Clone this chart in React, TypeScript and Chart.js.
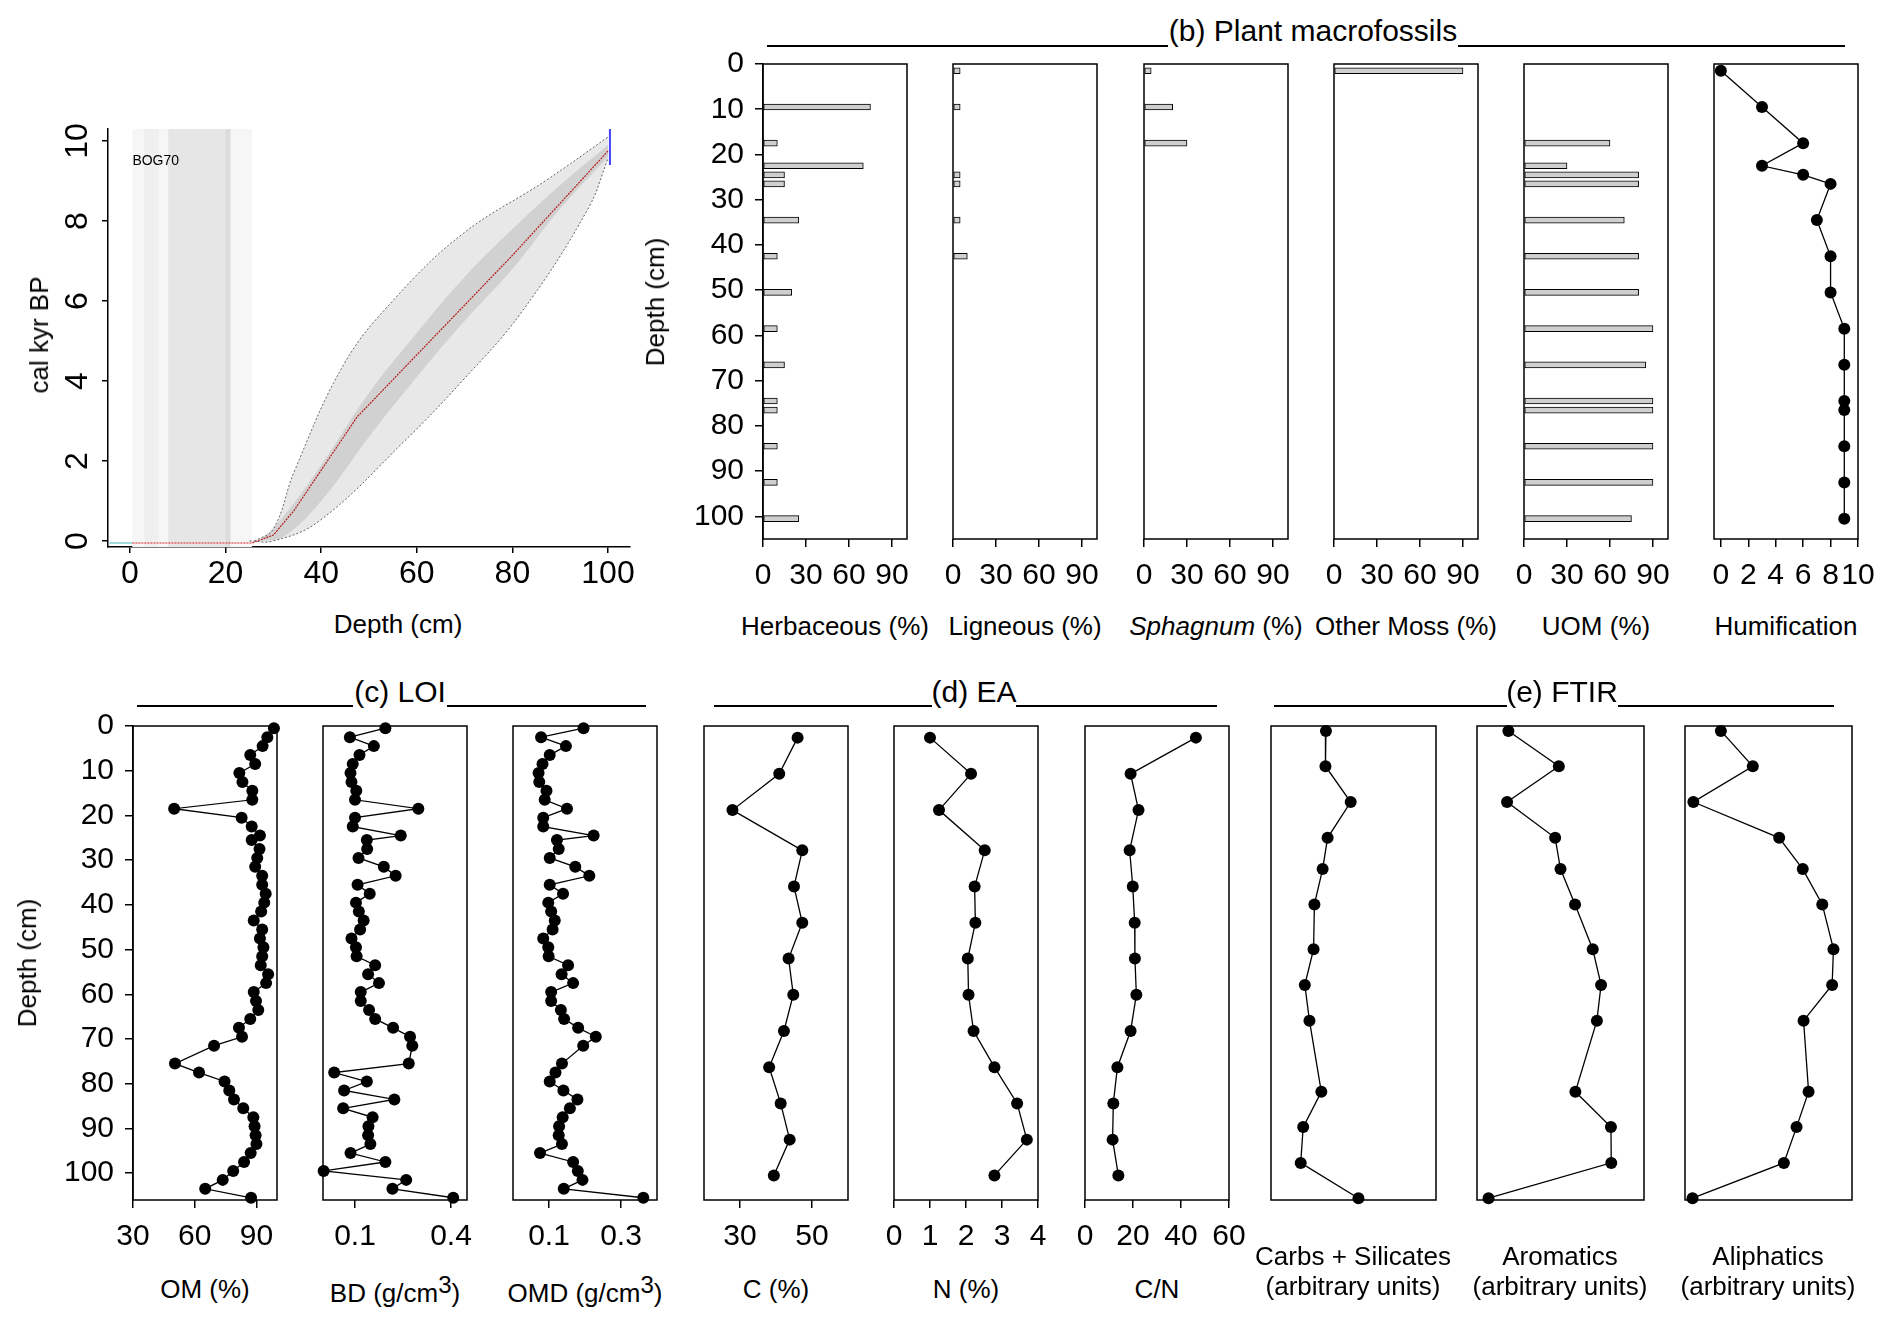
import React, { useEffect, useRef } from "react";
import { Chart, registerables } from "chart.js";
Chart.register(...registerables);

const FONT = "'Liberation Sans', Arial, sans-serif";

// ---------- (a) age-depth model ----------
const ageMeanDepth = [0.5, 25.5, 30, 34.3, 47.5, 80, 100];
const ageMeanAge = [-0.05, -0.05, 0.15, 0.76, 3.1, 7.14, 9.75];
const ageUpperDepth = [26, 30, 34.4, 44.9, 55.4, 69.5, 87.1, 100];
const ageUpperAge = [0, 0.3, 1.75, 4.45, 6.06, 7.67, 9.02, 10.1];
const ageLowerDepth = [25, 30, 39.6, 57.2, 69.5, 81.8, 95.8, 100];
const ageLowerAge = [0, 0, 0.5, 2.47, 4.0, 5.7, 8.3, 9.56];
const ageInnerUpperDepth = [27, 32, 40, 50, 60, 70, 80, 90, 100];
const ageInnerUpperAge = [0, 0.6, 1.9, 3.7, 5.2, 6.6, 7.8, 8.9, 9.9];
const ageInnerLowerDepth = [27, 32, 40, 50, 60, 70, 80, 90, 100];
const ageInnerLowerAge = [0, 0.1, 1.0, 2.6, 4.1, 5.5, 6.8, 8.3, 9.6];
const ageXTicks = [0, 20, 40, 60, 80, 100];
const ageYTicks = [0, 2, 4, 6, 8, 10];

// ---------- (b) plant macrofossils ----------
const macroDepth = [1.5, 9.5, 17.5, 22.5, 24.5, 26.5, 34.5, 42.5, 50.5, 58.5, 66.5, 74.5, 76.5, 84.5, 92.5, 100.5];
const herbaceous = [0, 75, 10, 70, 15, 15, 25, 10, 20, 10, 15, 10, 10, 10, 10, 25];
const ligneous = [5, 5, 0, 0, 5, 5, 5, 10, 0, 0, 0, 0, 0, 0, 0, 0];
const sphagnum = [5, 20, 30, 0, 0, 0, 0, 0, 0, 0, 0, 0, 0, 0, 0, 0];
const otherMoss = [90, 0, 0, 0, 0, 0, 0, 0, 0, 0, 0, 0, 0, 0, 0, 0];
const uom = [0, 0, 60, 30, 80, 80, 70, 80, 80, 90, 85, 90, 90, 90, 90, 75];
const humification = [0, 3, 6, 3, 6, 8, 7, 8, 8, 9, 9, 9, 9, 9, 9, 9];
const pctTicks = [0, 30, 60, 90];
const humTicks = [0, 2, 4, 6, 8, 10];
const depthTicks = [0, 10, 20, 30, 40, 50, 60, 70, 80, 90, 100];

// ---------- (c) LOI ----------
const loiDepth = [0.5, 2.5, 4.5, 6.5, 8.5, 10.5, 12.5, 14.5, 16.5, 18.5, 20.5, 22.5, 24.5, 25.5, 27.5, 29.5, 31.5, 33.5, 35.5, 37.5, 39.5, 41.5, 43.5, 45.5, 47.5, 49.5, 51.5, 53.5, 55.5, 57.5, 59.5, 61.5, 63.5, 65.5, 67.5, 69.5, 71.5, 75.5, 77.5, 79.5, 81.5, 83.5, 85.5, 87.5, 89.5, 91.5, 93.5, 95.5, 97.5, 99.5, 101.5, 103.5, 105.5];
const om = [98.5, 95.3, 93, 87, 89.4, 81.7, 83.2, 88, 88, 50, 82.8, 87.7, 91.7, 87.7, 91.5, 90.4, 89.4, 92.8, 92.8, 94.5, 93.8, 92.3, 88.7, 92.8, 91.7, 93.4, 92.8, 92.1, 95.7, 94.7, 88.7, 89.8, 90.9, 87, 81.5, 83, 69.4, 50.4, 62.1, 74.5, 76.8, 79.1, 83.6, 88.5, 89.1, 89.6, 90, 87.2, 84, 78.7, 73.6, 65.1, 87.4];
const bd = [0.195, 0.084, 0.159, 0.114, 0.093, 0.086, 0.089, 0.104, 0.1, 0.298, 0.1, 0.093, 0.243, 0.137, 0.138, 0.111, 0.19, 0.227, 0.108, 0.146, 0.103, 0.112, 0.127, 0.116, 0.089, 0.103, 0.105, 0.163, 0.141, 0.175, 0.118, 0.118, 0.144, 0.163, 0.219, 0.272, 0.279, 0.268, 0.035, 0.137, 0.066, 0.223, 0.063, 0.155, 0.142, 0.141, 0.148, 0.086, 0.195, 0.002, 0.26, 0.217, 0.407];
const omd = [0.196, 0.078, 0.147, 0.102, 0.082, 0.071, 0.073, 0.093, 0.088, 0.15, 0.084, 0.084, 0.224, 0.122, 0.127, 0.102, 0.173, 0.212, 0.102, 0.139, 0.098, 0.106, 0.116, 0.11, 0.084, 0.098, 0.099, 0.153, 0.135, 0.167, 0.106, 0.106, 0.133, 0.142, 0.181, 0.23, 0.195, 0.136, 0.118, 0.102, 0.14, 0.179, 0.158, 0.138, 0.128, 0.127, 0.136, 0.075, 0.167, 0.18, 0.193, 0.141, 0.362];
const omTicks = [30, 60, 90];
const bdTicks = [0.1, 0.4];
const omdTicks = [0.1, 0.3];

// ---------- (d) EA ----------
const eaDepth = [2.6, 10.7, 18.8, 27.8, 35.9, 44, 52, 60.1, 68.2, 76.3, 84.4, 92.5, 100.5];
const carbon = [46, 40.9, 27.9, 47.3, 45, 47.3, 43.5, 44.8, 42.2, 38.1, 41.3, 43.8, 39.4];
const nitrogen = [1.0, 2.14, 1.25, 2.52, 2.24, 2.26, 2.05, 2.07, 2.21, 2.79, 3.42, 3.69, 2.79];
const cn = [46.2, 19, 22.3, 18.6, 19.9, 20.7, 20.8, 21.4, 19, 13.5, 11.8, 11.5, 13.9];
const cTicks = [30, 50];
const nTicks = [0, 1, 2, 3, 4];
const cnTicks = [0, 20, 40, 60];

// ---------- (e) FTIR ----------
const ftirDepth = [1.1, 9, 17, 25, 32, 39.9, 49.9, 57.9, 65.9, 81.8, 89.7, 97.7, 105.6];
const carbsSilicates = [0.333, 0.33, 0.483, 0.343, 0.313, 0.263, 0.258, 0.205, 0.233, 0.305, 0.195, 0.18, 0.53];
const aromatics = [0.188, 0.49, 0.18, 0.468, 0.5, 0.587, 0.693, 0.743, 0.718, 0.589, 0.802, 0.804, 0.069];
const aliphatics = [0.215, 0.406, 0.05, 0.564, 0.705, 0.822, 0.889, 0.881, 0.71, 0.74, 0.668, 0.592, 0.045];

const pts = (xs: number[], ys: number[]) => xs.map((x, i) => ({ x, y: ys[i] }));
const barPts = (vals: number[]) => vals.map((v, i) => ({ x: v, y: macroDepth[i] })).filter((p) => p.x > 0);

const lineDs = (vals: number[], depth: number[], r = 6) => ({
  data: pts(vals, depth),
  showLine: true,
  borderColor: "#000",
  borderWidth: 1.3,
  pointRadius: r,
  pointBackgroundColor: "#000",
  pointBorderWidth: 0,
  clip: false as any,
});

const barDs = (vals: number[]) => ({
  type: "bar",
  data: barPts(vals),
  backgroundColor: "#cfcfcf",
  borderColor: "#000",
  borderWidth: 1,
  barThickness: 6,
  borderSkipped: false,
});

const boxPlugin = {
  id: "box",
  afterDatasetsDraw(chart: any, _a: any, o: any) {
    if (!o || !o.on) return;
    const { left, top, right, bottom } = chart.chartArea;
    const ctx = chart.ctx;
    ctx.save();
    ctx.strokeStyle = "#000";
    ctx.lineWidth = 1.5;
    ctx.strokeRect(left, top, right - left, bottom - top);
    ctx.restore();
  },
};

const agePlugin = {
  id: "ageBg",
  beforeDatasetsDraw(chart: any) {
    const x = chart.scales.x, y = chart.scales.y;
    const ctx = chart.ctx;
    const { top, bottom } = chart.chartArea;
    const band = (a: number, b: number, c: string) => {
      ctx.fillStyle = c;
      ctx.fillRect(x.getPixelForValue(a), top, x.getPixelForValue(b) - x.getPixelForValue(a), bottom - top);
    };
    ctx.save();
    band(0.5, 25.5, "#f6f6f6");
    band(3, 6, "#efefef");
    band(8, 21, "#e6e6e6");
    band(20, 21, "#dcdcdc");
    ctx.fillStyle = "#000";
    ctx.font = `14px ${FONT}`;
    ctx.textBaseline = "middle";
    ctx.fillText("BOG70", x.getPixelForValue(0.5), y.getPixelForValue(9.5));
    ctx.restore();
  },
};

type Axis = { min: number; max: number; ticks: number[]; labels?: boolean; reverse?: boolean; rot?: number; border?: boolean; tickLen?: number; pad?: number; size?: number };
type Cfg = { left: number; top: number; w: number; h: number; L: number; B: number; x: Axis; y: Axis; datasets: any[]; box?: boolean; bar?: boolean; age?: boolean };

const axisOpts = (a: Axis, horiz: boolean, L: number, B: number) => ({
  type: "linear",
  min: a.min,
  max: a.max,
  reverse: !!a.reverse,
  offset: false,
  afterFit: (s: any) => {
    if (horiz) s.height = B;
    else s.width = L;
    s.paddingTop = 0;
    s.paddingBottom = 0;
    s.paddingLeft = 0;
    s.paddingRight = 0;
  },
  afterBuildTicks: (s: any) => {
    s.ticks = a.ticks.map((v) => ({ value: v }));
  },
  ticks: {
    display: a.ticks.length > 0 && a.labels !== false,
    font: { family: FONT, size: a.size || 30 },
    color: "#000",
    padding: a.pad ?? 11,
    autoSkip: false,
    minRotation: a.rot || 0,
    maxRotation: a.rot || 0,
    crossAlign: a.rot ? "center" : "near",
    callback: (v: any) => String(v),
  },
  grid: {
    display: a.ticks.length > 0,
    offset: false,
    drawOnChartArea: false,
    drawTicks: true,
    tickLength: a.tickLen ?? 8,
    color: "#000",
    lineWidth: 1.5,
  },
  border: { display: a.border !== false, color: "#000", width: 1.5 },
});

function Panel({ cfg }: { cfg: Cfg }) {
  const ref = useRef<HTMLCanvasElement>(null);
  const T = 14, R = 16;
  const W = cfg.L + cfg.w + R;
  const H = T + cfg.h + cfg.B;
  useEffect(() => {
    const chart = new Chart(ref.current as HTMLCanvasElement, {
      type: cfg.bar ? "bar" : "scatter",
      data: { datasets: cfg.datasets },
      options: {
        animation: false,
        responsive: false,
        devicePixelRatio: 1,
        indexAxis: cfg.bar ? "y" : "x",
        layout: { padding: { top: T, right: R, left: 0, bottom: 0 }, autoPadding: false },
        plugins: { legend: { display: false }, tooltip: { enabled: false }, box: { on: cfg.box !== false } } as any,
        scales: {
          x: axisOpts(cfg.x, true, cfg.L, cfg.B) as any,
          y: axisOpts(cfg.y, false, cfg.L, cfg.B) as any,
        },
      },
      plugins: cfg.age ? [boxPlugin, agePlugin] : [boxPlugin],
    } as any);
    return () => chart.destroy();
  }, []);
  return (
    <canvas
      ref={ref}
      width={W}
      height={H}
      style={{ position: "absolute", left: cfg.left - cfg.L, top: cfg.top - T, width: W, height: H }}
    />
  );
}

const Txt = ({ x, y, children, rot, size = 26, italic }: any) => (
  <div
    style={{
      position: "absolute",
      left: x,
      top: y,
      transform: `translate(-50%,-50%)${rot ? " rotate(-90deg)" : ""}`,
      fontFamily: FONT,
      fontSize: size,
      fontStyle: italic ? "italic" : "normal",
      whiteSpace: "nowrap",
      textAlign: "center",
      lineHeight: 1.15,
      color: "#000",
    }}
  >
    {children}
  </div>
);

const Line = ({ x1, x2, y }: any) => (
  <div style={{ position: "absolute", left: x1, top: y - 1, width: x2 - x1, height: 2, background: "#000" }} />
);

const BT = 726, BH = 474;
const depthAxisC: Axis = { min: 0, max: 106, ticks: depthTicks, reverse: true };
const noAxisC: Axis = { min: 0, max: 106, ticks: [], reverse: true, border: false };
const BTB = 64, BHB = 475;
const depthAxisB: Axis = { min: 0, max: 105, ticks: depthTicks, reverse: true };
const noAxisB: Axis = { min: 0, max: 105, ticks: [], reverse: true, border: false };
const pctAxis: Axis = { min: 0, max: 100.5, ticks: pctTicks, border: false };
const bLefts = [763, 953, 1144, 1334, 1524, 1714];
const SL = 26;

const bound = { showLine: true, borderColor: "#666", borderWidth: 1, borderDash: [2, 2], pointRadius: 0, tension: 0.4 };

const panels: Cfg[] = [
  {
    left: 108, top: 129, w: 522, h: 418, L: 88, B: 60, box: false, age: true,
    x: { min: -4.6, max: 104.6, ticks: ageXTicks, size: 32, tickLen: 6, pad: 2 },
    y: { min: -0.15, max: 10.3, ticks: ageYTicks, size: 32, tickLen: 6, pad: 6, rot: 90 },
    datasets: [
      { ...bound, data: pts(ageUpperDepth, ageUpperAge), fill: "+1", backgroundColor: "rgba(0,0,0,0.09)" },
      { ...bound, data: pts(ageLowerDepth, ageLowerAge), fill: false },
      { data: pts(ageInnerUpperDepth, ageInnerUpperAge), showLine: true, borderWidth: 0, borderColor: "rgba(0,0,0,0)", pointRadius: 0, tension: 0.4, fill: "+1", backgroundColor: "rgba(0,0,0,0.1)" },
      { data: pts(ageInnerLowerDepth, ageInnerLowerAge), showLine: true, borderWidth: 0, borderColor: "rgba(0,0,0,0)", pointRadius: 0, tension: 0.4, fill: false },
      { data: pts(ageMeanDepth, ageMeanAge), showLine: true, borderColor: "#e02020", borderWidth: 1.2, borderDash: [2, 1], pointRadius: 0 },
      { data: pts([-4.3, 0.5], [-0.05, -0.05]), showLine: true, borderColor: "#7fd0d0", borderWidth: 1.5, pointRadius: 0 },
      { data: pts([100.4, 100.4], [9.4, 10.3]), showLine: true, borderColor: "#4040ff", borderWidth: 2, pointRadius: 0 },
    ],
  },
  { left: bLefts[0], top: BTB, w: 144, h: BHB, L: 100, B: 60, bar: true, x: pctAxis, y: depthAxisB, datasets: [barDs(herbaceous)] },
  { left: bLefts[1], top: BTB, w: 144, h: BHB, L: SL, B: 60, bar: true, x: pctAxis, y: noAxisB, datasets: [barDs(ligneous)] },
  { left: bLefts[2], top: BTB, w: 144, h: BHB, L: SL, B: 60, bar: true, x: pctAxis, y: noAxisB, datasets: [barDs(sphagnum)] },
  { left: bLefts[3], top: BTB, w: 144, h: BHB, L: SL, B: 60, bar: true, x: pctAxis, y: noAxisB, datasets: [barDs(otherMoss)] },
  { left: bLefts[4], top: BTB, w: 144, h: BHB, L: SL, B: 60, bar: true, x: pctAxis, y: noAxisB, datasets: [barDs(uom)] },
  { left: bLefts[5], top: BTB, w: 144, h: BHB, L: SL, B: 60, x: { min: -0.5, max: 10, ticks: humTicks, border: false }, y: noAxisB, datasets: [lineDs(humification, macroDepth, 6)] },
  { left: 133, top: BT, w: 144, h: BH, L: 100, B: 60, x: { min: 30, max: 100, ticks: omTicks, border: false }, y: depthAxisC, datasets: [lineDs(om, loiDepth)] },
  { left: 323, top: BT, w: 144, h: BH, L: SL, B: 60, x: { min: 0, max: 0.45, ticks: bdTicks, border: false }, y: noAxisC, datasets: [lineDs(bd, loiDepth)] },
  { left: 513, top: BT, w: 144, h: BH, L: SL, B: 60, x: { min: 0, max: 0.4, ticks: omdTicks, border: false }, y: noAxisC, datasets: [lineDs(omd, loiDepth)] },
  { left: 704, top: BT, w: 144, h: BH, L: SL, B: 60, x: { min: 20, max: 60, ticks: cTicks, border: false }, y: noAxisC, datasets: [lineDs(carbon, eaDepth)] },
  { left: 894, top: BT, w: 144, h: BH, L: SL, B: 60, x: { min: 0, max: 4, ticks: nTicks, border: false }, y: noAxisC, datasets: [lineDs(nitrogen, eaDepth)] },
  { left: 1085, top: BT, w: 144, h: BH, L: SL, B: 60, x: { min: 0, max: 60, ticks: cnTicks, border: false }, y: noAxisC, datasets: [lineDs(cn, eaDepth)] },
  { left: 1271, top: BT, w: 165, h: BH, L: SL, B: 60, x: { min: 0, max: 1, ticks: [], border: false }, y: noAxisC, datasets: [lineDs(carbsSilicates, ftirDepth)] },
  { left: 1477, top: BT, w: 167, h: BH, L: SL, B: 60, x: { min: 0, max: 1, ticks: [], border: false }, y: noAxisC, datasets: [lineDs(aromatics, ftirDepth)] },
  { left: 1685, top: BT, w: 167, h: BH, L: SL, B: 60, x: { min: 0, max: 1, ticks: [], border: false }, y: noAxisC, datasets: [lineDs(aliphatics, ftirDepth)] },
];

export default function App() {
  const bt = 627, ct = 1290;
  return (
    <div style={{ position: "absolute", left: 0, top: 0, width: 1892, height: 1323, background: "#fff", overflow: "hidden" }}>
      {panels.map((p, i) => (
        <Panel key={i} cfg={p} />
      ))}
      <Txt x={40} y={335} rot>cal kyr BP</Txt>
      <Txt x={398} y={625}>Depth (cm)</Txt>

      <Line x1={767} x2={1168} y={46} />
      <Line x1={1458} x2={1845} y={46} />
      <Txt x={1313} y={31} size={30}>(b) Plant macrofossils</Txt>
      <Txt x={656} y={302} rot>Depth (cm)</Txt>
      <Txt x={bLefts[0] + 72} y={bt}>Herbaceous (%)</Txt>
      <Txt x={bLefts[1] + 72} y={bt}>Ligneous (%)</Txt>
      <Txt x={bLefts[2] + 72} y={bt}><i>Sphagnum</i> (%)</Txt>
      <Txt x={bLefts[3] + 72} y={bt}>Other Moss (%)</Txt>
      <Txt x={bLefts[4] + 72} y={bt}>UOM (%)</Txt>
      <Txt x={bLefts[5] + 72} y={bt}>Humification</Txt>

      <Line x1={137} x2={353} y={706} />
      <Line x1={447} x2={646} y={706} />
      <Txt x={400} y={692} size={30}>(c) LOI</Txt>
      <Txt x={28} y={963} rot>Depth (cm)</Txt>
      <Txt x={205} y={ct}>OM (%)</Txt>
      <Txt x={395} y={ct}>BD (g/cm<sup style={{ fontSize: 24 }}>3</sup>)</Txt>
      <Txt x={585} y={ct}>OMD (g/cm<sup style={{ fontSize: 24 }}>3</sup>)</Txt>

      <Line x1={714} x2={932} y={706} />
      <Line x1={1016} x2={1217} y={706} />
      <Txt x={974} y={692} size={30}>(d) EA</Txt>
      <Txt x={776} y={ct}>C (%)</Txt>
      <Txt x={966} y={ct}>N (%)</Txt>
      <Txt x={1157} y={ct}>C/N</Txt>

      <Line x1={1274} x2={1507} y={706} />
      <Line x1={1618} x2={1834} y={706} />
      <Txt x={1562} y={692} size={30}>(e) FTIR</Txt>
      <Txt x={1353} y={1272}>Carbs + Silicates<br />(arbitrary units)</Txt>
      <Txt x={1560} y={1272}>Aromatics<br />(arbitrary units)</Txt>
      <Txt x={1768} y={1272}>Aliphatics<br />(arbitrary units)</Txt>
    </div>
  );
}
